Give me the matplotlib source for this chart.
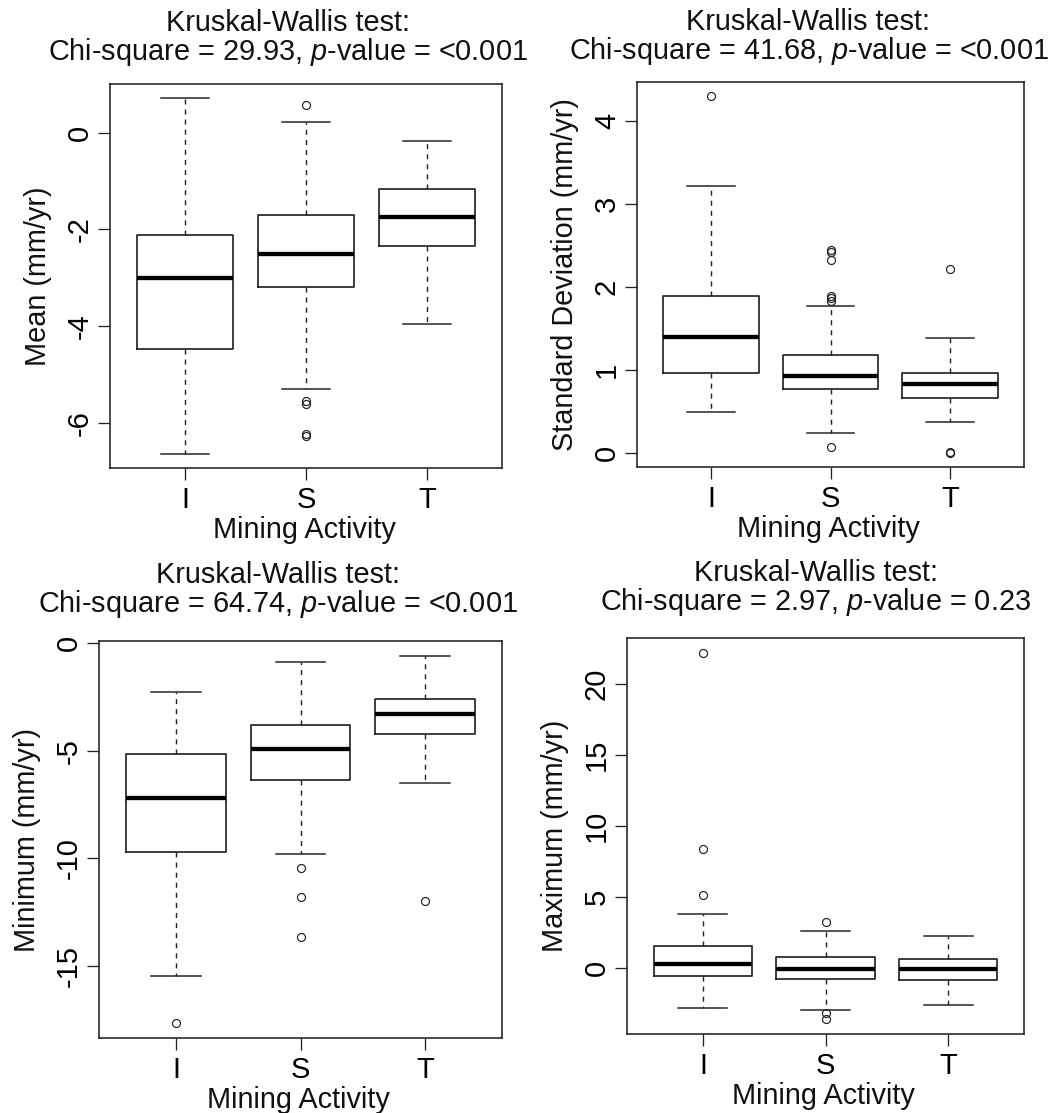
import matplotlib
matplotlib.use("Agg")
import matplotlib.pyplot as plt

plt.rcParams['font.family'] = ['Liberation Sans', 'DejaVu Sans']
plt.rcParams['mathtext.fontset'] = 'custom'
plt.rcParams['mathtext.rm'] = 'Liberation Sans'
plt.rcParams['mathtext.it'] = 'Liberation Sans:italic'

W, H = 1049, 1113
DPI = 100

groups = ["I", "S", "T"]
xlabel = "Mining Activity"

# ---- Panel data ----
mean_whislo = [-6.63, -5.30, -3.96]
mean_q1 = [-4.46, -3.19, -2.34]
mean_med = [-3.01, -2.50, -1.735]
mean_q3 = [-2.105, -1.70, -1.17]
mean_whishi = [0.71, 0.226, -0.17]
mean_fliers = [[], [0.57, -5.55, -5.60, -6.22, -6.27], []]
mean_yticks = [0, -2, -4, -6]
mean_title = ["Kruskal-Wallis test:", "Chi-square = 29.93, $\\mathit{p}$-value = <0.001"]
mean_ylabel = "Mean (mm/yr)"

sd_whislo = [0.49, 0.237, 0.376]
sd_q1 = [0.965, 0.765, 0.657]
sd_med = [1.40, 0.92, 0.826]
sd_q3 = [1.895, 1.18, 0.96]
sd_whishi = [3.22, 1.775, 1.386]
sd_fliers = [[4.30], [2.44, 2.42, 2.32, 1.89, 1.87, 1.83, 0.064], [2.22, 0.0, 0.01]]
sd_yticks = [0, 1, 2, 3, 4]
sd_title = ["Kruskal-Wallis test:", "Chi-square = 41.68, $\\mathit{p}$-value = <0.001"]
sd_ylabel = "Standard Deviation (mm/yr)"

min_whislo = [-15.46, -9.80, -6.52]
min_q1 = [-9.73, -6.34, -4.23]
min_med = [-7.18, -4.94, -3.28]
min_q3 = [-5.13, -3.80, -2.61]
min_whishi = [-2.29, -0.89, -0.58]
min_fliers = [[-17.68], [-10.45, -11.79, -13.68], [-12.0]]
min_yticks = [0, -5, -10, -15]
min_title = ["Kruskal-Wallis test:", "Chi-square = 64.74, $\\mathit{p}$-value = <0.001"]
min_ylabel = "Minimum (mm/yr)"

max_whislo = [-2.84, -2.94, -2.60]
max_q1 = [-0.59, -0.75, -0.85]
max_med = [0.25, -0.07, -0.07]
max_q3 = [1.57, 0.80, 0.63]
max_whishi = [3.77, 2.58, 2.23]
max_fliers = [[22.18, 8.35, 5.16], [3.26, -3.17, -3.62], []]
max_yticks = [0, 5, 10, 15, 20]
max_title = ["Kruskal-Wallis test:", "Chi-square = 2.97, $\\mathit{p}$-value = 0.23"]
max_ylabel = "Maximum (mm/yr)"

panels = [
    (mean_whislo, mean_q1, mean_med, mean_q3, mean_whishi, mean_fliers, mean_yticks, mean_title, mean_ylabel),
    (sd_whislo, sd_q1, sd_med, sd_q3, sd_whishi, sd_fliers, sd_yticks, sd_title, sd_ylabel),
    (min_whislo, min_q1, min_med, min_q3, min_whishi, min_fliers, min_yticks, min_title, min_ylabel),
    (max_whislo, max_q1, max_med, max_q3, max_whishi, max_fliers, max_yticks, max_title, max_ylabel),
]

# axes boxes in pixels: left, top, right, bottom
boxes_px = [
    (110, 84, 502, 468),
    (637, 82, 1024, 467),
    (99, 641, 502, 1038),
    (627, 638, 1024, 1034),
]
# title block bottom (pixels from top) and horizontal shift
title_bottom = [68, 67, 620, 618]
title_shift = [-18, -22, -23, -10]

FS = 20.8
px = 72.0 / DPI  # points per pixel

fig = plt.figure(figsize=(W / DPI, H / DPI), dpi=DPI)

def fx(x):
    return x / W

def fy(y):
    return 1 - y / H

for k, ((wlo, q1, med, q3, whi, fl, yt, title, ylab), (l, t, r, b)) in enumerate(zip(panels, boxes_px)):
    ax = fig.add_axes([fx(l), fy(b), (r - l) / W, (b - t) / H])
    stats = []
    for i, g in enumerate(groups):
        stats.append(dict(label=g, whislo=wlo[i], q1=q1[i], med=med[i], q3=q3[i],
                          whishi=whi[i], fliers=fl[i]))
    ax.bxp(stats, positions=[1, 2, 3], widths=0.8, capwidths=0.4, showfliers=True,
           boxprops=dict(color='#222222', linewidth=1.7 * px),
           medianprops=dict(color='black', linewidth=4.3 * px, solid_capstyle='butt'),
           whiskerprops=dict(color='#222222', linewidth=1.4 * px, linestyle=(0, (3.6, 3.6))),
           capprops=dict(color='#222222', linewidth=1.5 * px),
           flierprops=dict(marker='o', markerfacecolor='none', markeredgecolor='#222222',
                           markersize=8 * px, markeredgewidth=1.2 * px))
    allv = list(wlo) + list(whi) + [v for f in fl for v in f]
    lo, hi = min(allv), max(allv)
    rng = hi - lo
    ax.set_ylim(lo - 0.04 * rng, hi + 0.04 * rng)
    ax.set_xlim(0.38, 3.62)
    ax.set_yticks(yt)
    ax.set_yticklabels([str(v) for v in yt], rotation=90, va='center', ha='right')
    ax.set_xticks([1, 2, 3])
    ax.set_xticklabels(groups)
    ax.tick_params(axis='both', labelsize=21, length=12 * px, width=1.3 * px, color='#222222')
    ax.tick_params(axis='x', pad=6 * px)
    ax.tick_params(axis='y', pad=4 * px)
    for s in ax.spines.values():
        s.set_linewidth(1.6 * px)
        s.set_color('#222222')
    cx = (l + r) / 2
    cy = (t + b) / 2
    fig.text(fx(cx + title_shift[k]), fy(title_bottom[k]), title[0] + "\n" + title[1],
             ha='center', va='bottom', multialignment='center', linespacing=0.95,
             fontsize=FS, color='#111111')
    fig.text(fx(l - 72), fy(cy), ylab, rotation=90, ha='center', va='center', fontsize=FS, color='#111111')
    fig.text(fx(cx - 2), fy(b + 62), xlabel, ha='center', va='center', fontsize=FS, color='#111111')

fig.savefig("out.png", dpi=DPI)
